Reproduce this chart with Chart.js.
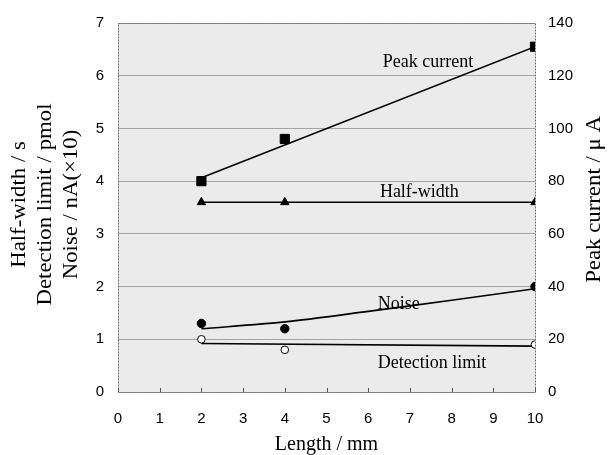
<!DOCTYPE html>
<html><head><meta charset="utf-8">
<script src="https://cdn.jsdelivr.net/npm/chart.js@4/dist/chart.umd.min.js"></script>
<style>html,body{margin:0;padding:0;background:#fff}#wrap{width:609px;height:455px}</style>
</head><body><div id="wrap"><canvas id="c" width="609" height="455"></canvas></div>
<script>
// ---- data ----
const lengths = [2, 4, 10];                 // Length / mm
const peakCurrent = [80, 96, 131];          // μA (right axis)
const halfWidth = [3.6, 3.6, 3.6];          // s
const noise = [1.3, 1.2, 2.0];              // nA(×10)
const detectionLimit = [1.0, 0.8, 0.9];     // pmol

// trend lines as drawn in the reference
const peakFitX = [2, 10];
const peakFit = [81.3, 131];
const halfFitX = [2, 10];
const halfFit = [3.6, 3.6];
const noiseFitX = [2, 4, 6, 8, 10];
const noiseFit = [1.2, 1.33, 1.53, 1.74, 1.96];
const detFitX = [2, 10];
const detFit = [0.92, 0.87];

const xTicks = [0, 1, 2, 3, 4, 5, 6, 7, 8, 9, 10];
const leftTicks = [0, 1, 2, 3, 4, 5, 6, 7];
const rightTicks = [0, 20, 40, 60, 80, 100, 120, 140];
const seriesNames = ['Peak current', 'Half-width', 'Noise', 'Detection limit'];
const xTitle = 'Length / mm';
const leftTitle = ['Half-width / s', 'Detection limit / pmol', 'Noise / nA(×10)'];
const rightTitle = 'Peak current / μ A';

// ---- label placement (annotation config, left scale units) ----
const labelAnchors = [
  {x: 6.35, y: 6.25},
  {x: 6.28, y: 3.78},
  {x: 6.23, y: 1.67},
  {x: 6.23, y: 0.55}
];

const pts = (xs, ys) => xs.map((x, i) => ({x: x, y: ys[i]}));
const lineDs = (xs, ys, axis, tension) => ({
  type: 'line', data: pts(xs, ys), yAxisID: axis, borderColor: '#000', borderWidth: 1.6,
  pointRadius: 0, fill: false, tension: tension || 0, order: 2
});
const markDs = (ys, axis, style, bg, r) => ({
  type: 'scatter', data: pts(lengths, ys), yAxisID: axis, pointStyle: style,
  pointRadius: r, pointBackgroundColor: bg, pointBorderColor: '#000', pointBorderWidth: 1, showLine: false, order: 1
});

const serif = '"Liberation Serif", "Times New Roman", serif';
const sans = '"Liberation Sans", Arial, sans-serif';

function vText(ctx, text, x, y) {
  ctx.save();
  ctx.translate(x, y);
  ctx.rotate(-Math.PI / 2);
  ctx.scale(1.14, 1);
  ctx.fillText(text, 0, 0);
  ctx.restore();
}

const plotDecor = {
  id: 'plotDecor',
  beforeDraw(chart) {
    const {ctx, chartArea: a} = chart;
    ctx.save();
    ctx.fillStyle = '#ebebeb';
    ctx.fillRect(a.left, a.top, a.right - a.left, a.bottom - a.top);
    ctx.restore();
  },
  beforeDatasetsDraw(chart) {
    const {ctx, chartArea: a, scales} = chart;
    ctx.save();
    ctx.strokeStyle = '#6e6e6e';
    ctx.lineWidth = 1;
    ctx.setLineDash([2, 1]);
    ctx.strokeRect(Math.round(a.left) + 0.5, Math.round(a.top) + 0.5, Math.round(a.right - a.left), Math.round(a.bottom - a.top));
    ctx.setLineDash([]);
    ctx.strokeStyle = '#555';
    xTicks.forEach(v => {
      const px = Math.round(scales.x.getPixelForValue(v)) + 0.5;
      ctx.beginPath(); ctx.moveTo(px, a.bottom); ctx.lineTo(px, a.bottom - 4); ctx.stroke();
    });
    ctx.restore();
  },
  afterDatasetsDraw(chart) {
    const {ctx, scales, chartArea: a} = chart;
    ctx.save();
    ctx.fillStyle = '#000';
    ctx.font = '18px ' + serif;
    ctx.textAlign = 'left';
    ctx.textBaseline = 'middle';
    seriesNames.forEach((t, i) => {
      ctx.fillText(t, scales.x.getPixelForValue(labelAnchors[i].x), scales.y.getPixelForValue(labelAnchors[i].y));
    });
    // rotated axis titles (both read bottom-to-top, as in the reference)
    ctx.font = '20px ' + serif;
    ctx.textAlign = 'center';
    const cy = (a.top + a.bottom) / 2;
    leftTitle.forEach((t, i) => vText(ctx, t, 20 + i * 26, cy - 3));
    vText(ctx, rightTitle, 595, cy - 8);
    ctx.restore();
  }
};

new Chart(document.getElementById('c'), {
  data: {
    datasets: [
      lineDs(peakFitX, peakFit, 'y2'),
      lineDs(halfFitX, halfFit, 'y'),
      lineDs(noiseFitX, noiseFit, 'y', 0.3),
      lineDs(detFitX, detFit, 'y'),
      markDs(peakCurrent, 'y2', 'rect', '#000', 6.5),
      markDs(halfWidth, 'y', 'triangle', '#000', 4.8),
      markDs(noise, 'y', 'circle', '#000', 4.2),
      markDs(detectionLimit, 'y', 'circle', '#fff', 3.8)
    ]
  },
  options: {
    responsive: false,
    devicePixelRatio: 1,
    animation: false,
    layout: {padding: {top: 20, left: 0, right: 0, bottom: 0}},
    plugins: {legend: {display: false}, tooltip: {enabled: false}},
    scales: {
      x: {
        type: 'linear', position: 'bottom', min: 0, max: 10,
        afterBuildTicks: s => { s.ticks = xTicks.map(v => ({value: v})); },
        afterFit: s => { s.height = 63; },
        grid: {display: false, drawTicks: false},
        border: {display: false},
        ticks: {color: '#000', padding: 18, font: {family: sans, size: 15}},
        title: {display: true, text: xTitle, color: '#000', font: {family: serif, size: 20, lineHeight: 1.0}, padding: {top: 0, bottom: 0}}
      },
      y: {
        type: 'linear', position: 'left', min: 0, max: 7,
        afterBuildTicks: s => { s.ticks = leftTicks.map(v => ({value: v})); },
        afterFit: s => { s.width = 118; },
        grid: {color: '#a3a3a3', lineWidth: 1, drawTicks: false},
        border: {display: false},
        ticks: {color: '#000', padding: 14, font: {family: sans, size: 15}},
        title: {display: false}
      },
      y2: {
        type: 'linear', position: 'right', min: 0, max: 140,
        afterBuildTicks: s => { s.ticks = rightTicks.map(v => ({value: v})); },
        afterFit: s => { s.width = 74; },
        grid: {display: false, drawTicks: false},
        border: {display: false},
        ticks: {color: '#000', padding: 13, font: {family: sans, size: 15}},
        title: {display: false}
      }
    }
  },
  plugins: [plotDecor]
});
</script>
</body></html>
